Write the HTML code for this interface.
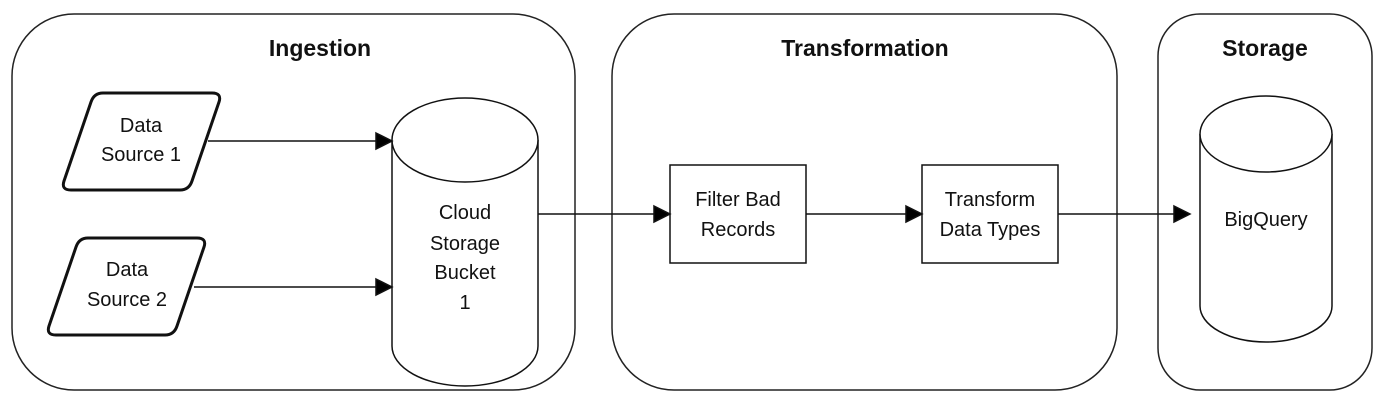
<!DOCTYPE html>
<html><head><meta charset="utf-8"><style>
html,body{margin:0;padding:0;background:#fff;}
svg text{font-family:"Liberation Sans Narrow","Liberation Sans",sans-serif;fill:#111;}
</style></head><body>
<svg width="1400" height="406" viewBox="0 0 1400 406" xmlns="http://www.w3.org/2000/svg">
<defs><marker id="a" markerWidth="10" markerHeight="10" refX="9" refY="5" orient="auto" markerUnits="userSpaceOnUse"><path d="M0,0 L10,5 L0,10 z" fill="#000" transform="scale(1.6) translate(-4,-2)"/></marker></defs>
<g fill="none" stroke="#222" stroke-width="1.5">
<rect x="12" y="14" width="563" height="376" rx="62"/>
<rect x="612" y="14" width="505" height="376" rx="62"/>
<rect x="1158" y="14" width="214" height="376" rx="42"/>
</g>
<g font-weight="bold" font-size="23" text-anchor="middle">
<text x="320" y="56">Ingestion</text>
<text x="865" y="56">Transformation</text>
<text x="1265" y="56">Storage</text>
</g>
<g fill="#fff" stroke="#111" stroke-width="3" stroke-linejoin="round">
<path d="M103,93 L212,93 Q222,93 219,102 L192,181 Q189,190 180,190 L71,190 Q61,190 64,181 L91,102 Q94,93 103,93 z"/>
<path d="M88,238 L197,238 Q207,238 204,247 L177,326 Q174,335 165,335 L56,335 Q46,335 49,326 L76,247 Q79,238 88,238 z"/>
</g>
<g stroke="#111" stroke-width="1.5" fill="#fff">
<path d="M392,140 L392,346 A73,40 0 0 0 538,346 L538,140"/>
<ellipse cx="465" cy="140" rx="73" ry="42"/>
<path d="M1200,134 L1200,306 A66,36 0 0 0 1332,306 L1332,134"/>
<ellipse cx="1266" cy="134" rx="66" ry="38"/>
<rect x="670" y="165" width="136" height="98"/>
<rect x="922" y="165" width="136" height="98"/>
</g>
<g stroke="#111" stroke-width="1.5" fill="#000">
<line x1="208" y1="141" x2="378" y2="141"/><path d="M376,133 L392,141 L376,149 z"/>
<line x1="194" y1="287" x2="378" y2="287"/><path d="M376,279 L392,287 L376,295 z"/>
<line x1="538" y1="214" x2="656" y2="214"/><path d="M654,206 L670,214 L654,222 z"/>
<line x1="806" y1="214" x2="908" y2="214"/><path d="M906,206 L922,214 L906,222 z"/>
<line x1="1058" y1="214" x2="1176" y2="214"/><path d="M1174,206 L1190,214 L1174,222 z"/>
</g>
<g font-size="20" text-anchor="middle">
<text x="141" y="132">Data</text><text x="141" y="161">Source 1</text>
<text x="127" y="276">Data</text><text x="127" y="306">Source 2</text>
<text x="465" y="219">Cloud</text><text x="465" y="250">Storage</text><text x="465" y="279">Bucket</text><text x="465" y="309">1</text>
<text x="738" y="206">Filter Bad</text><text x="738" y="236">Records</text>
<text x="990" y="206">Transform</text><text x="990" y="236">Data Types</text>
<text x="1266" y="226">BigQuery</text>
</g>
</svg>
</body></html>
